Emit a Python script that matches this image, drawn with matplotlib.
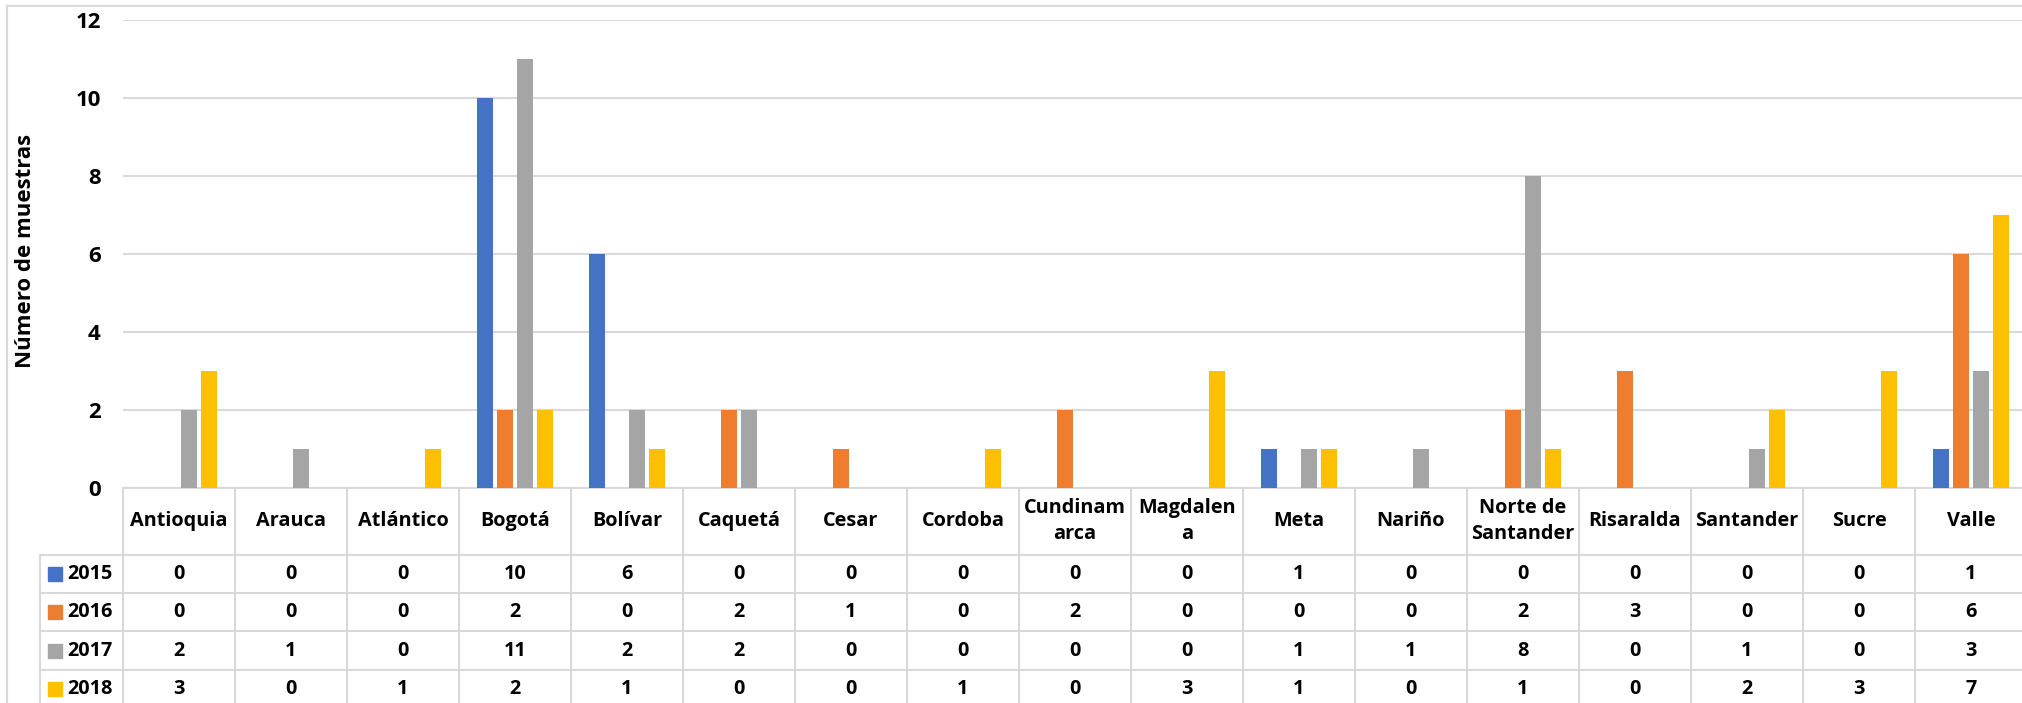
import numpy as np
import matplotlib.pyplot as plt
from matplotlib.transforms import blended_transform_factory
from matplotlib.patches import Rectangle

plt.rcParams['font.family'] = ['Open Sans', 'DejaVu Sans']

departamentos = ['Antioquia', 'Arauca', 'Atlántico', 'Bogotá', 'Bolívar', 'Caquetá',
                 'Cesar', 'Cordoba', 'Cundinam\narca', 'Magdalen\na', 'Meta', 'Nariño',
                 'Norte de\nSantander', 'Risaralda', 'Santander', 'Sucre', 'Valle']
anios = ['2015', '2016', '2017', '2018']
v2015 = [0, 0, 0, 10, 6, 0, 0, 0, 0, 0, 1, 0, 0, 0, 0, 0, 1]
v2016 = [0, 0, 0, 2, 0, 2, 1, 0, 2, 0, 0, 0, 2, 3, 0, 0, 6]
v2017 = [2, 1, 0, 11, 2, 2, 0, 0, 0, 0, 1, 1, 8, 0, 1, 0, 3]
v2018 = [3, 0, 1, 2, 1, 0, 0, 1, 0, 3, 1, 0, 1, 0, 2, 3, 7]
series = [v2015, v2016, v2017, v2018]
colores = ['#4472C4', '#ED7D31', '#A5A5A5', '#FFC000']

W, H = 2022, 703
fs = 14.3
fig = plt.figure(figsize=(W / 100, H / 100), dpi=100)
# plot area in pixels: left 123, top 20, bottom 488, one category = 112 px
ax = fig.add_axes([123 / W, 1 - 488 / H, 17 * 112 / W, 468 / H])

x = np.arange(len(departamentos))
for k, (vals, c) in enumerate(zip(series, colores)):
    ax.bar(x + (k - 1.5) * 0.181, vals, width=0.143, color=c, zorder=3)

ax.set_xlim(-0.5, len(departamentos) - 0.5)
ax.set_ylim(0, 12)
ax.set_yticks(range(0, 13, 2))
ax.tick_params(axis='y', length=0, pad=16, labelsize=16)
for t in ax.get_yticklabels():
    t.set_fontweight('bold')
ax.set_xticks([])
ax.grid(axis='y', color='#D9D9D9', linewidth=1.5, zorder=0)
for s in ax.spines.values():
    s.set_visible(False)

fig.text(26 / W, 1 - 251 / H, 'Número de muestras', rotation=90, ha='center', va='center',
         fontsize=16, fontweight='bold')

# data table under the plot
tr = blended_transform_factory(ax.transData, fig.transFigure)
gris = '#D9D9D9'
fy = lambda py: 1 - py / H
x_left = -0.5 - (123 - 40) / 112
x_right = len(departamentos) - 0.5
rows_py = [488, 555, 593, 631, 670, 708]

for i, py in enumerate(rows_py):
    x0 = -0.5 if i == 0 else x_left
    ax.plot([x0, x_right], [fy(py), fy(py)], color=gris, lw=1.5, transform=tr, clip_on=False)
for i in range(len(departamentos) + 1):
    ax.plot([i - 0.5, i - 0.5], [fy(488), fy(710)], color=gris, lw=1.5, transform=tr, clip_on=False)
ax.plot([x_left, x_left], [fy(555), fy(710)], color=gris, lw=1.5, transform=tr, clip_on=False)

for i, d in enumerate(departamentos):
    ax.text(i, fy(521), d, ha='center', va='center', fontsize=fs, fontweight='bold',
            linespacing=1.35, transform=tr)

for r, (anio, vals, c) in enumerate(zip(anios, series, colores)):
    yc = (rows_py[r + 1] + rows_py[r + 2]) / 2
    fig.add_artist(Rectangle((48 / W, fy(yc + 7)), 14 / W, 14 / H, color=c,
                             transform=fig.transFigure))
    fig.text(67 / W, fy(yc), anio, ha='left', va='center', fontsize=fs, fontweight='bold')
    for i, v in enumerate(vals):
        ax.text(i, fy(yc), str(v), ha='center', va='center', fontsize=fs,
                fontweight='bold', transform=tr)

# outer chart border
fig.add_artist(plt.Line2D([7 / W, 7 / W], [0, fy(6)], color=gris, lw=1.5))
fig.add_artist(plt.Line2D([7 / W, 1], [fy(6), fy(6)], color=gris, lw=1.5))

fig.savefig('out.png', dpi=100)
